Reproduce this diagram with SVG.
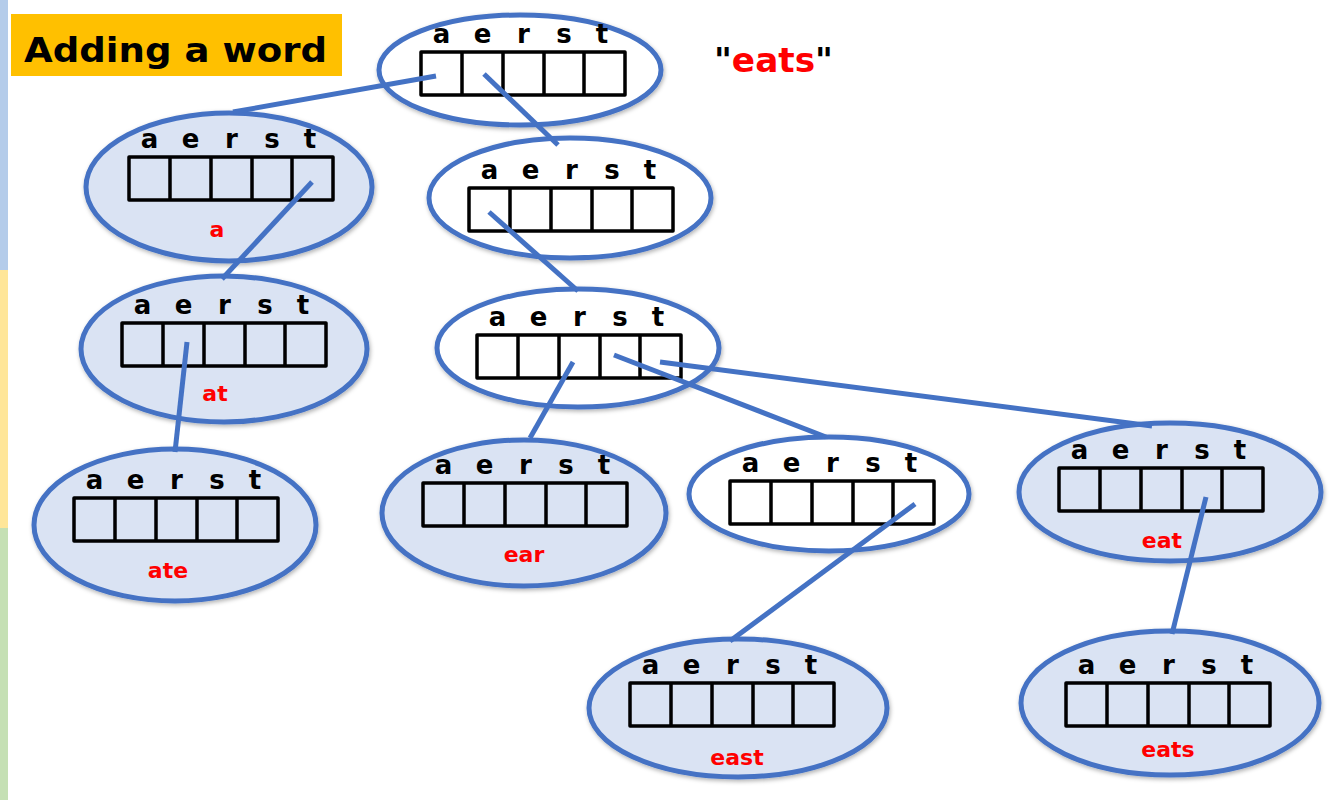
<svg xmlns="http://www.w3.org/2000/svg" xmlns:xlink="http://www.w3.org/1999/xlink" width="1342" height="800" viewBox="0 0 1342 800">
<style>
.node{stroke:#4472C4;stroke-width:5}
.lab{fill:#4472C4}
.filled{fill:#DAE3F3}
.empty{fill:#FFFFFF}
.cell{fill:none;stroke:#000;stroke-width:3.5;stroke-linejoin:round}
.let{font-family:"DejaVu Sans","Liberation Sans",sans-serif;font-weight:bold;font-size:26px;fill:#000;text-anchor:middle}
.word{font-family:"DejaVu Sans","Liberation Sans",sans-serif;font-weight:bold;font-size:22px;fill:#FF0000;text-anchor:middle}
.edge{stroke:#4472C4;stroke-width:5;stroke-linecap:butt;fill:none}
</style>
<defs>
<filter id="sh" x="-10%" y="-10%" width="120%" height="130%">
<feDropShadow dx="1" dy="2" stdDeviation="2" flood-color="#000" flood-opacity="0.3"/>
</filter>
<g id="arr">
<rect class="cell" x="0" y="0" width="204" height="43" fill="#fff"/>
<path class="cell" d="M41 0V43M82 0V43M123 0V43M163 0V43"/>
<text class="let" x="20.5" y="-9">a</text>
<text class="let" x="61.5" y="-9">e</text>
<text class="let" x="102.5" y="-9">r</text>
<text class="let" x="143" y="-9">s</text>
<text class="let" x="181" y="-9">t</text>
</g>
</defs>
<rect x="0" y="0" width="1342" height="800" fill="#fff"/>
<rect x="0" y="0" width="8" height="270" fill="#B4CCEA"/>
<rect x="0" y="270" width="8" height="258" fill="#FFE699"/>
<rect x="0" y="528" width="8" height="272" fill="#C5E0B4"/>
<g id="title">
<rect x="11" y="14" width="331" height="62" fill="#FFC000"/>
<text x="24" y="62" font-family="DejaVu Sans, Liberation Sans, sans-serif" font-weight="bold" font-size="34" textLength="303" lengthAdjust="spacingAndGlyphs" fill="#000">Adding a word</text>
</g>
<g id="word-label">
<text x="714" y="72" font-family="DejaVu Sans, Liberation Sans, sans-serif" font-weight="bold" font-size="34" textLength="119" lengthAdjust="spacingAndGlyphs" fill="#000">"<tspan fill="#FF0000">eats</tspan>"</text>
</g>
<g id="n-root"><ellipse class="node empty" cx="520" cy="70" rx="141" ry="55" filter="url(#sh)"/><use xlink:href="#arr" x="421" y="52"/></g>
<g id="n-a"><ellipse class="node filled" cx="229" cy="187" rx="143" ry="74" filter="url(#sh)"/><use xlink:href="#arr" x="129" y="157"/><text class="word" x="217" y="237">a</text></g>
<g id="n-e"><ellipse class="node empty" cx="570" cy="198" rx="141" ry="60" filter="url(#sh)"/><use xlink:href="#arr" x="469" y="188"/></g>
<g id="n-at"><ellipse class="node filled" cx="224" cy="349" rx="143" ry="73" filter="url(#sh)"/><use xlink:href="#arr" x="122" y="323"/><text class="word" x="215" y="401">at</text></g>
<g id="n-ate"><ellipse class="node filled" cx="175" cy="525" rx="141" ry="76" filter="url(#sh)"/><use xlink:href="#arr" x="74" y="498"/><text class="word" x="168" y="578">ate</text></g>
<g id="n-ea"><ellipse class="node empty" cx="578" cy="348" rx="141" ry="59" filter="url(#sh)"/><use xlink:href="#arr" x="477" y="335"/></g>
<g id="n-ear"><ellipse class="node filled" cx="524" cy="513" rx="142" ry="73" filter="url(#sh)"/><use xlink:href="#arr" x="423" y="483"/><text class="word" x="524" y="562">ear</text></g>
<g id="n-eas"><ellipse class="node empty" cx="829" cy="494" rx="140" ry="57" filter="url(#sh)"/><use xlink:href="#arr" x="730" y="481"/></g>
<g id="n-eat"><ellipse class="node filled" cx="1170" cy="492" rx="151" ry="69" filter="url(#sh)"/><use xlink:href="#arr" x="1059" y="468"/><text class="word" x="1162" y="548">eat</text></g>
<g id="n-east"><ellipse class="node filled" cx="738" cy="708" rx="149" ry="69" filter="url(#sh)"/><use xlink:href="#arr" x="630" y="683"/><text class="word" x="737" y="765">east</text></g>
<g id="n-eats"><ellipse class="node filled" cx="1170" cy="703" rx="149" ry="72" filter="url(#sh)"/><use xlink:href="#arr" x="1066" y="683"/><text class="word" x="1168" y="757">eats</text></g>
<g id="connectors">
<line class="edge" x1="436" y1="76" x2="233" y2="112"/>
<line class="edge" x1="484" y1="74" x2="558" y2="145"/>
<line class="edge" x1="312" y1="182" x2="222" y2="279"/>
<line class="edge" x1="187" y1="342" x2="175" y2="452"/>
<line class="edge" x1="489" y1="212" x2="578" y2="291"/>
<line class="edge" x1="573" y1="362" x2="530" y2="438"/>
<line class="edge" x1="614" y1="355" x2="826" y2="437"/>
<line class="edge" x1="660" y1="362" x2="1152" y2="426"/>
<line class="edge" x1="915" y1="504" x2="730" y2="641"/>
<line class="edge" x1="1206" y1="497" x2="1172" y2="634"/>
</g>
</svg>
